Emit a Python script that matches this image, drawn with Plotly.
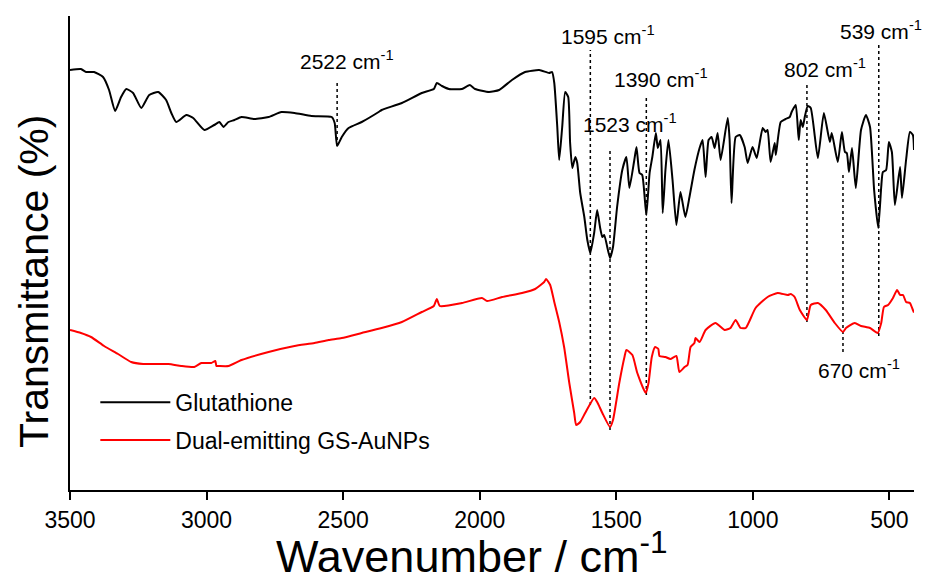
import plotly.graph_objects as go

# FTIR spectra: wavenumber (cm^-1) and transmittance (arbitrary offset scale)
gsh_wn = [3500, 3460, 3441, 3412, 3379, 3357, 3335, 3313, 3294, 3269, 3239, 3210, 3177,
          3148, 3129, 3111, 3074, 3049, 3008, 2972, 2953, 2938, 2920, 2898, 2872, 2825,
          2773, 2726, 2678, 2616, 2542, 2531, 2522, 2505, 2480, 2432, 2370, 2359, 2285,
          2212, 2168, 2157, 2138, 2113, 2065, 2036, 2017, 1966, 1929, 1882, 1834, 1782,
          1746, 1735, 1727, 1716, 1709, 1698, 1687, 1676, 1669, 1661, 1650, 1643, 1632,
          1617, 1606, 1595, 1581, 1570, 1559, 1551, 1544, 1523, 1512, 1497, 1478, 1463,
          1452, 1434, 1426, 1415, 1405, 1390, 1378, 1368, 1355, 1348, 1338, 1330, 1320,
          1309, 1294, 1280, 1265, 1247, 1232, 1214, 1195, 1184, 1173, 1162, 1151, 1140,
          1129, 1118, 1092, 1085, 1078, 1063, 1048, 1030, 1019, 1001, 986, 964, 953, 946,
          935, 920, 916, 898, 880, 865, 858, 843, 832, 825, 817, 810, 799, 788, 762, 740,
          718, 711, 689, 674, 663, 656, 648, 637, 623, 604, 586, 571, 556, 541, 530, 524,
          512, 502, 491, 480, 461, 454, 439, 425, 414, 410]
gsh_t = [84.0, 84.2, 83.6, 83.6, 82.6, 80.0, 75.8, 78.6, 80.2, 79.4, 76.4, 79.0, 79.6,
         78.0, 75.4, 73.6, 75.0, 74.4, 72.0, 73.0, 73.6, 72.6, 73.6, 74.0, 74.6, 74.2,
         74.6, 75.6, 75.4, 74.8, 74.6, 73.4, 68.8, 70.6, 72.4, 73.6, 75.6, 76.0, 77.4,
         79.4, 80.2, 81.4, 80.8, 80.2, 80.2, 81.0, 80.2, 79.6, 80.0, 82.0, 83.6, 84.0,
         83.4, 83.6, 81.4, 72.6, 66.0, 72.6, 79.6, 78.6, 69.4, 64.4, 66.6, 65.4, 59.4,
         54.6, 50.0, 47.4, 51.4, 56.0, 52.4, 50.6, 51.0, 46.4, 48.6, 56.6, 64.0, 66.6,
         60.4, 66.0, 68.6, 63.4, 63.0, 55.0, 63.4, 66.6, 71.4, 68.4, 70.0, 55.4, 64.0,
         70.0, 62.0, 53.0, 59.6, 54.6, 58.6, 64.0, 68.4, 70.0, 62.6, 70.0, 70.6, 68.4,
         71.4, 66.0, 74.4, 70.0, 57.4, 70.6, 71.0, 68.6, 65.4, 68.6, 66.4, 72.4, 71.6, 72.0,
         65.6, 69.4, 67.0, 73.6, 74.2, 74.6, 75.6, 77.0, 70.0, 74.0, 72.6, 74.6, 76.8, 76.4,
         66.4, 75.4, 69.6, 71.4, 65.6, 71.6, 67.6, 67.4, 63.6, 68.4, 60.4, 72.0, 75.0,
         72.6, 60.0, 52.4, 60.6, 63.6, 64.0, 69.6, 67.6, 57.0, 64.6, 58.4, 66.0, 71.6,
         71.0, 68.0]

aunp_wn = [3500, 3460, 3423, 3375, 3324, 3276, 3232, 3140, 3093, 3045, 3019, 2983, 2968,
           2964, 2957, 2920, 2872, 2773, 2678, 2605, 2553, 2505, 2432, 2359, 2285, 2212,
           2168, 2157, 2146, 2065, 1992, 1973, 1918, 1845, 1797, 1764, 1757, 1742, 1727,
           1709, 1691, 1672, 1654, 1647, 1632, 1614, 1581, 1570, 1551, 1523, 1512, 1489,
           1470, 1463, 1441, 1423, 1392, 1382, 1370, 1358, 1346, 1342, 1320, 1302, 1280,
           1269, 1250, 1239, 1228, 1214, 1210, 1195, 1173, 1137, 1103, 1082, 1063, 1045,
           1026, 990, 946, 909, 872, 861, 847, 828, 802, 788, 762, 733, 700, 670, 659,
           627, 604, 571, 543, 530, 520, 505, 487, 472, 461, 450, 439, 425, 414, 410]
aunp_t = [32.0, 31.4, 30.6, 28.8, 27.2, 25.6, 25.2, 25.2, 24.8, 24.6, 25.4, 25.4, 25.8,
          24.8, 24.8, 24.8, 26.0, 27.6, 28.8, 29.4, 30.0, 30.4, 31.4, 32.4, 33.6, 35.6,
          36.8, 38.2, 36.8, 37.4, 38.4, 37.8, 38.6, 39.4, 40.2, 41.6, 42.2, 41.0, 37.6,
          33.6, 28.6, 21.4, 15.4, 13.0, 13.6, 15.4, 18.4, 17.6, 15.4, 12.6, 14.0, 21.4,
          26.6, 28.0, 27.0, 23.4, 19.4, 21.4, 26.6, 28.6, 28.2, 26.8, 26.6, 26.2, 26.8,
          23.6, 24.6, 25.0, 28.6, 29.4, 30.4, 29.6, 32.0, 33.4, 32.0, 32.4, 34.0, 32.4,
          32.4, 36.4, 38.6, 39.4, 39.0, 39.2, 38.6, 36.0, 34.0, 37.0, 37.4, 36.0, 33.4,
          31.6, 32.4, 33.4, 32.8, 32.4, 31.4, 33.4, 36.6, 37.0, 38.4, 40.0, 39.0, 39.0,
          37.6, 37.4, 36.0, 35.5]

# Assigned bands: wavenumber, label placement, dotted guide extent
band_wn = [2522, 1595, 1523, 1390, 802, 670, 539]
band_label_t = [86.0, 91.0, 73.4, 82.4, 84.4, 24.2, 92.0]
band_top_t = [82.0, 88.0, 68.4, 78.6, 81.4, 63.4, 89.0]
band_bottom_t = [68.8, 17.0, 12.0, 19.0, 33.6, 27.6, 30.8]
band_label_shift = [10, 18, 20, 15, 18, 16, 2]

x_ticks = [3500, 3000, 2500, 2000, 1500, 1000, 500]

FONT = "Liberation Sans, Arial, sans-serif"

fig = go.Figure()
fig.add_trace(go.Scatter(x=gsh_wn, y=gsh_t, mode="lines", name="Glutathione",
                         legendgroup="a",
                         line=dict(color="black", width=2, shape="spline", smoothing=0.5)))
fig.add_trace(go.Scatter(x=aunp_wn, y=aunp_t, mode="lines", name="Dual-emitting GS-AuNPs",
                         legendgroup="b",
                         line=dict(color="#ff0000", width=2, shape="spline", smoothing=0.5)))

for wn, top, bot in zip(band_wn, band_top_t, band_bottom_t):
    fig.add_shape(type="line", xref="x", yref="y", x0=wn, x1=wn, y0=bot, y1=top,
                  line=dict(color="black", width=1.5, dash="dot"), layer="below")

for wn, ty, dx in zip(band_wn, band_label_t, band_label_shift):
    fig.add_annotation(x=wn, y=ty, xref="x", yref="y", text=f"{wn} cm<sup>-1</sup>",
                       showarrow=False, xanchor="center", yanchor="middle", xshift=dx,
                       font=dict(family=FONT, size=21, color="black"))

# Axis titles
fig.add_annotation(x=0.476, y=-0.1329, xref="paper", yref="paper",
                   text="Wavenumber / cm<sup>-1</sup>", showarrow=False,
                   xanchor="center", yanchor="middle",
                   font=dict(family=FONT, size=45, color="black"))
fig.add_annotation(x=-0.042, y=0.44, xref="paper", yref="paper",
                   text="Transmittance (%)", showarrow=False, textangle=-90,
                   xanchor="center", yanchor="middle",
                   font=dict(family=FONT, size=41, color="black"))

fig.update_layout(
    width=927, height=583,
    margin=dict(l=70, r=13, t=16, b=93),
    paper_bgcolor="white", plot_bgcolor="white",
    font=dict(family=FONT, color="black"),
    legend=dict(x=0.03, y=0.2305, xanchor="left", yanchor="top",
                bgcolor="rgba(0,0,0,0)", font=dict(family=FONT, size=23),
                itemwidth=70, tracegroupgap=5),
    xaxis=dict(range=[3500, 410], tickvals=x_ticks, ticks="outside", ticklen=8,
               tickwidth=1.5, tickcolor="black", showline=True, linecolor="black",
               linewidth=2, showgrid=False, zeroline=False,
               tickfont=dict(family=FONT, size=23)),
    yaxis=dict(range=[0, 94.8], showticklabels=False, ticks="", showline=True,
               linecolor="black", linewidth=2, showgrid=False, zeroline=False),
)

fig.write_html("out.html")
